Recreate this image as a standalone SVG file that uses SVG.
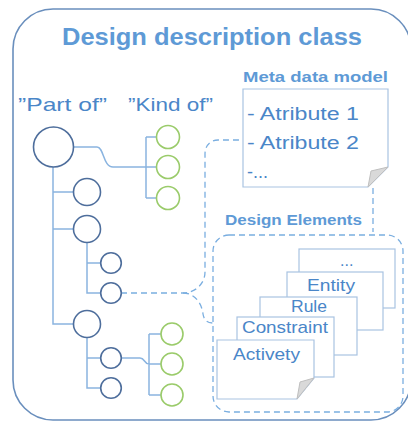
<svg xmlns="http://www.w3.org/2000/svg" width="408" height="421" viewBox="0 0 408 421">
<style>
.t{font-family:"Liberation Sans",Arial,sans-serif;fill:#4a86c8}
.b{font-weight:bold;fill:#5e9ad6}
.line{fill:none;stroke:#8ab4e0;stroke-width:1.5}
.dash{fill:none;stroke:#7aaee0;stroke-width:1.3;stroke-dasharray:6 4}
.cb{fill:#fff;stroke:#4e6e9c;stroke-width:1.6}
.cg{fill:#fff;stroke:#9acb6a;stroke-width:1.6}
.pg{fill:#fff;stroke:#a9c3e2;stroke-width:1.2}
.fold{fill:#d9d9d9;stroke:#bfbfbf;stroke-width:1}
</style>
<rect x="13" y="9" width="398" height="411" rx="40" fill="#fff" stroke="#6a8fbd" stroke-width="1.6"/>
<text class="t b" x="62" y="45" font-size="23.5" textLength="300" lengthAdjust="spacingAndGlyphs">Design description class</text>
<text class="t" x="18" y="111" font-size="19" textLength="89" lengthAdjust="spacingAndGlyphs">”Part of”</text>
<text class="t" x="128" y="111" font-size="19" textLength="85" lengthAdjust="spacingAndGlyphs">”Kind of”</text>

<g id="connectors">
<path class="line" d="M53,167 V324 H73.5 M53,192 H73.5 M53,229 H73.5"/>
<path class="line" d="M87,242.5 V293 H100.7 M87,263 H100.7"/>
<path class="line" d="M87,337.5 V388 H100.7 M87,358 H100.7"/>
<path class="line" d="M74,147 H97 C104,147 103,167 113,167 H156.5 M146,137 V198 M146,137 H156.5 M146,198 H156.5"/>
<path class="line" d="M121,358 H140 C145,358 144,364 149,364 H161 M149,334 V395 M149,334 H161 M149,395 H161"/>
<path class="dash" d="M121,293 H183 C195,293 205,284 205,272 V154 C205,146 210,140 218,140 H243"/>
<path class="dash" d="M183,293 C195,293 202,304 203,314 C204,320 207,323 213,323"/>
<path class="dash" d="M373,188 V232"/>
</g>

<g id="part-root"><circle class="cb" cx="53.5" cy="147" r="20"/></g>
<g id="part-1"><circle class="cb" cx="87" cy="192" r="13.5"/></g>
<g id="part-2"><circle class="cb" cx="87" cy="229" r="13.5"/></g>
<g id="part-2a"><circle class="cb" cx="111" cy="263" r="10.3"/></g>
<g id="part-2b"><circle class="cb" cx="111" cy="293" r="10.3"/></g>
<g id="part-3"><circle class="cb" cx="87" cy="324" r="13.5"/></g>
<g id="part-3a"><circle class="cb" cx="111" cy="358" r="10.3"/></g>
<g id="part-3b"><circle class="cb" cx="111" cy="388" r="10.3"/></g>
<g id="kind-top"><circle class="cg" cx="168" cy="137" r="11.5"/><circle class="cg" cx="168" cy="167" r="11.5"/><circle class="cg" cx="168" cy="198" r="11.5"/></g>
<g id="kind-bottom"><circle class="cg" cx="172" cy="334" r="11"/><circle class="cg" cx="172" cy="364" r="11"/><circle class="cg" cx="172" cy="395" r="11"/></g>

<g id="meta-data-model">
<text class="t b" x="243" y="82" font-size="14" textLength="145" lengthAdjust="spacingAndGlyphs">Meta data model</text>
<path class="pg" d="M243,89 H388 V167 L368,187 H243 Z"/>
<path class="fold" d="M368,187 L371,171 L388,167 Z"/>
<text class="t" x="247" y="120" font-size="18" textLength="112" lengthAdjust="spacingAndGlyphs">- Atribute 1</text>
<text class="t" x="247" y="149" font-size="18" textLength="112" lengthAdjust="spacingAndGlyphs">- Atribute 2</text>
<text class="t" x="247" y="178" font-size="18">-...</text>
</g>

<g id="design-elements">
<text class="t b" x="225" y="225" font-size="14" textLength="137" lengthAdjust="spacingAndGlyphs">Design Elements</text>
<rect class="dash" x="213" y="235" width="190" height="177" rx="16"/>
<rect class="pg" x="299" y="249" width="96" height="59"/>
<text class="t" x="340" y="266" font-size="16">...</text>
<rect class="pg" x="287" y="272" width="96" height="58"/>
<text class="t" x="307" y="291" font-size="17" textLength="48" lengthAdjust="spacingAndGlyphs">Entity</text>
<rect class="pg" x="260" y="297" width="97" height="58"/>
<text class="t" x="291" y="312" font-size="17" textLength="36" lengthAdjust="spacingAndGlyphs">Rule</text>
<rect class="pg" x="237" y="317" width="97" height="60"/>
<text class="t" x="242" y="333" font-size="17" textLength="86" lengthAdjust="spacingAndGlyphs">Constraint</text>
<path class="pg" d="M217,340 H314 V378 L297,399 H217 Z"/>
<path class="fold" d="M297,399 L300,382 L314,378 Z"/>
<text class="t" x="233" y="360" font-size="17" textLength="67" lengthAdjust="spacingAndGlyphs">Activety</text>
</g>
</svg>
